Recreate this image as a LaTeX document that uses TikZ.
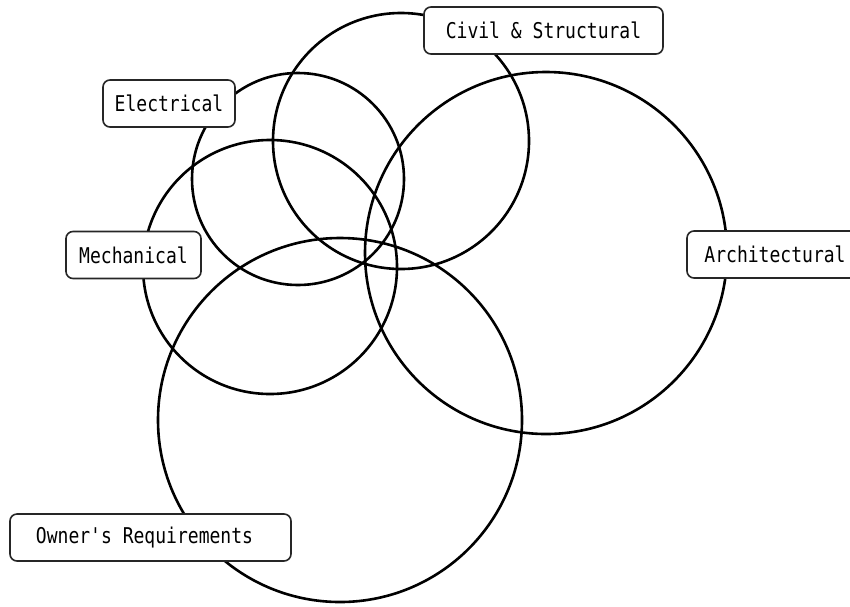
\documentclass[tikz,border=0pt]{standalone}
\usepackage{fontspec}
\newfontfamily\labelfont{DejaVu Sans Mono}
\newcommand{\tall}[1]{\scalebox{0.98}[1.18]{#1}}
\begin{document}
\begin{tikzpicture}[x=1pt,y=-1pt,
  ring/.style={draw=black,line width=2.6pt},
  tag/.style={draw=black!85,line width=1.6pt,fill=white,rounded corners=7pt,
    minimum height=47pt,inner sep=0pt,font=\labelfont\fontsize{18.4pt}{20pt}\selectfont}]
\useasboundingbox (0,0) rectangle (850,606);
% the five discipline circles
\draw[ring] (401,141) circle (128);
\draw[ring] (298,179) circle (106);
\draw[ring] (546,253) circle (181);
\draw[ring] (270,267) circle (127);
\draw[ring] (340,420) circle (182);
% discipline labels
\node[tag,minimum width=239pt] (civil) at (543.5,30.5) {\tall{Civil \& Structural}};
\node[tag,minimum width=132pt] (elec) at (169,103.5) {\tall{Electrical}};
\node[tag,minimum width=135pt] (mech) at (133.5,255) {\tall{Mechanical}};
\node[tag,minimum width=176pt] (arch) at (775,254.5) {\tall{Architectural}};
\node[tag,minimum width=281pt] (owner) at (150.5,537.5) {\tall{Owner's Requirements}\hspace*{12pt}};
\end{tikzpicture}
\end{document}
